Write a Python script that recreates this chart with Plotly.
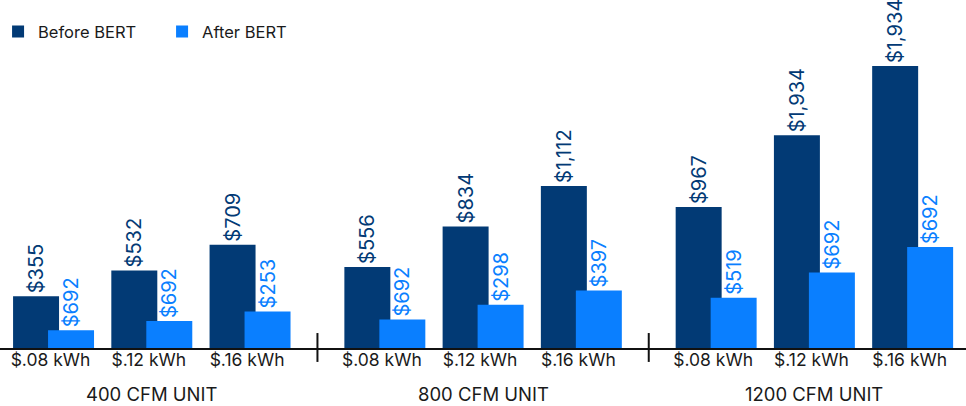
import plotly.graph_objects as go

# data
units = ["400 CFM UNIT", "800 CFM UNIT", "1200 CFM UNIT"]
rates = ["$.08 kWh", "$.12 kWh", "$.16 kWh"]

before = [355, 532, 709, 556, 834, 1112, 967, 1459, 1934]
after = [122, 185, 251, 195, 296, 395, 344, 518, 692]

before_text = ["$355", "$532", "$709", "$556", "$834", "$1,112", "$967", "$1,934", "$1,934"]
after_text = ["$692", "$692", "$253", "$692", "$298", "$397", "$519", "$692", "$692"]

NAVY = "#023a75"
BLUE = "#0a7fff"
FONT = "Inter"

# x position of each category, with a little extra space between units
GAP = 0.372
xs = []
for g in range(len(units)):
    for r in range(len(rates)):
        xs.append(g * len(rates) + r + g * GAP)

fig = go.Figure()
fig.add_trace(go.Bar(
    x=xs, y=before, name="Before BERT",
    marker=dict(color=NAVY, line=dict(width=0)),
    width=0.468, offset=-0.412,
    text=before_text, textposition="outside", textangle=-90,
    textfont=dict(color=NAVY, size=20, family=FONT),
    constraintext="none", cliponaxis=False,
))
fig.add_trace(go.Bar(
    x=xs, y=after, name="After BERT",
    marker=dict(color=BLUE, line=dict(width=0)),
    width=0.468, offset=-0.056,
    text=after_text, textposition="outside", textangle=-90,
    textfont=dict(color=BLUE, size=20, family=FONT),
    constraintext="none", cliponaxis=False,
))

# unit names under the rate labels
for g, u in enumerate(units):
    fig.add_annotation(
        x=sum(xs[g * 3:g * 3 + 3]) / 3, y=-0.132, xref="x", yref="paper",
        text=u, showarrow=False, yanchor="middle",
        font=dict(size=18.5, color="#1a1a1a", family=FONT),
    )

# dividers between units
for g in range(len(units) - 1):
    mid = (xs[g * 3 + 2] + xs[g * 3 + 3]) / 2
    fig.add_shape(type="line", xref="x", yref="paper",
                  x0=mid, x1=mid, y0=-0.04, y1=0.043,
                  line=dict(color="#111111", width=2))

fig.update_layout(
    width=966, height=406,
    margin=dict(l=0, r=0, t=0, b=58, autoexpand=False),
    barmode="overlay",
    plot_bgcolor="white", paper_bgcolor="white",
    font=dict(family=FONT, size=16, color="#1a1a1a"),
    showlegend=True,
    legend=dict(orientation="h", x=-0.002, y=0.909, xanchor="left", yanchor="middle",
                entrywidth=119, entrywidthmode="pixels",
                font=dict(size=16.5, color="#1a1a1a", family=FONT),
                bgcolor="rgba(0,0,0,0)"),
    xaxis=dict(range=[-0.545, 9.287], tickvals=xs, ticktext=rates * len(units),
               showline=True, linecolor="#111111", linewidth=1.5,
               showgrid=False, zeroline=False, ticks="", automargin=False,
               tickfont=dict(size=17.5, color="#1a1a1a", family=FONT),
               ticklabelshift=-3, ticklabelstandoff=-5),
    yaxis=dict(range=[0, 2387], visible=False, showgrid=False, zeroline=False,
               automargin=False),
)

# page body margin would push the figure 8px down and right
fig.write_html("out.html", config={"displayModeBar": False},
               post_script="document.body.style.margin='0';")
